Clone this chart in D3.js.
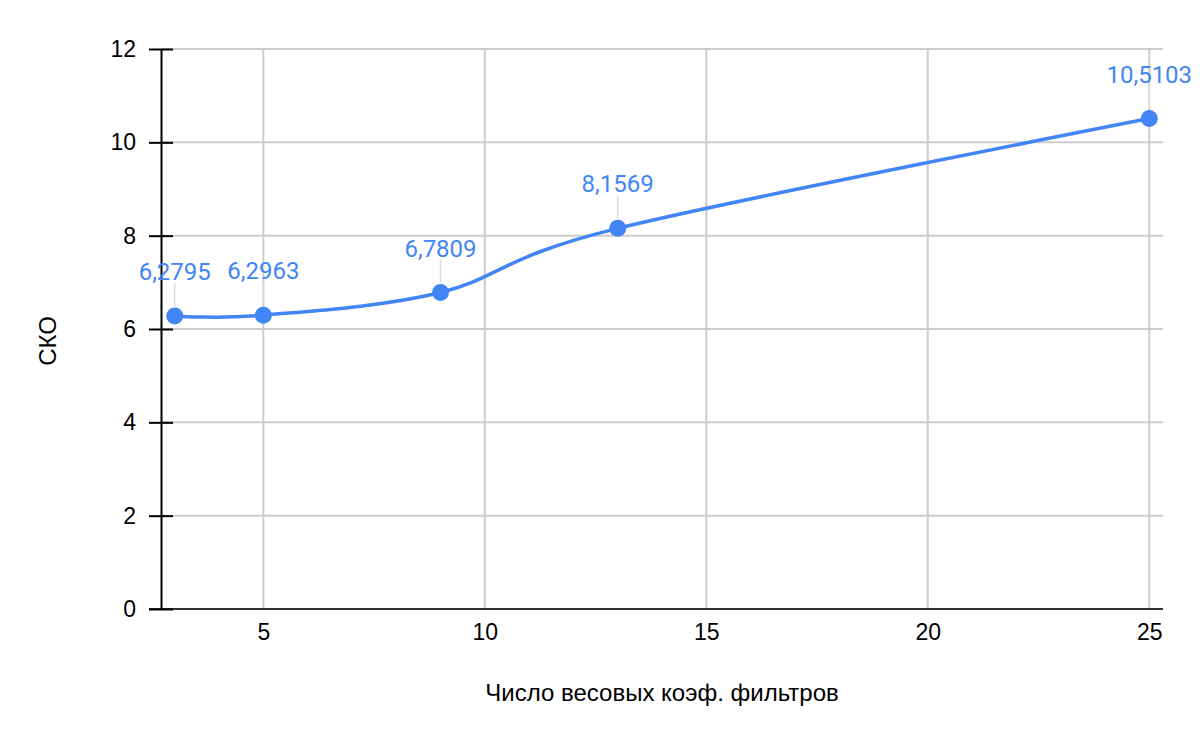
<!DOCTYPE html>
<html>
<head>
<meta charset="utf-8">
<script src="https://cdn.jsdelivr.net/npm/d3@7"></script>
<style>
  html, body { margin: 0; padding: 0; background: #fff; }
  svg { display: block; }
</style>
</head>
<body>
<svg id="chart" width="1200" height="742"></svg>
<script>
// ---- data ----
const xValues = [3, 5, 9, 13, 25];
const yValues = [6.2795, 6.2963, 6.7809, 8.1569, 10.5103];
const pointLabels = ["6,2795", "6,2963", "6,7809", "8,1569", "10,5103"];
const xTicks = [5, 10, 15, 20, 25];
const yTicks = [0, 2, 4, 6, 8, 10, 12];
const xTitle = "Число весовых коэф. фильтров";
const yTitle = "СКО";

// ---- layout ----
const plotLeft = 161, plotRight = 1163, plotTop = 49, plotBottom = 609;
const pad = 0.31;
const svg = d3.select("#chart");

const x = d3.scaleLinear().domain([3 - pad, 25 + pad]).range([plotLeft, plotRight]);
const y = d3.scaleLinear().domain([0, 12]).range([plotBottom, plotTop]);

const tickFont = "'Liberation Sans', Arial, sans-serif";

// horizontal gridlines
svg.append("g").selectAll("line").data(yTicks.filter(d => d > 0)).join("line")
  .attr("x1", plotLeft).attr("x2", plotRight)
  .attr("y1", d => y(d)).attr("y2", d => y(d))
  .attr("stroke", "#cccccc").attr("stroke-width", 2);

// vertical gridlines
svg.append("g").selectAll("line").data(xTicks).join("line")
  .attr("x1", d => x(d)).attr("x2", d => x(d))
  .attr("y1", plotTop).attr("y2", plotBottom)
  .attr("stroke", "#cccccc").attr("stroke-width", 2);

// bottom axis line
svg.append("line")
  .attr("x1", plotLeft - 12).attr("x2", plotRight)
  .attr("y1", plotBottom).attr("y2", plotBottom)
  .attr("stroke", "#333333").attr("stroke-width", 2);

// left axis via d3.axisLeft
const yAxis = d3.axisLeft(y).tickValues(yTicks).tickSizeInner(12).tickSizeOuter(0).tickPadding(13);
const gy = svg.append("g").attr("transform", `translate(${plotLeft},0)`).call(yAxis);
gy.select(".domain").attr("stroke", "#000").attr("stroke-width", 2);
gy.selectAll(".tick line").attr("stroke", "#000").attr("stroke-width", 2).attr("x2", 12).attr("x1", -12);
gy.selectAll(".tick text").attr("x", -25)
  .style("font-family", tickFont).style("font-size", "23px").attr("fill", "#000");

// bottom axis labels
const xAxis = d3.axisBottom(x).tickValues(xTicks).tickSize(0).tickPadding(15);
const gx = svg.append("g").attr("transform", `translate(0,${plotBottom})`).call(xAxis);
gx.select(".domain").remove();
gx.selectAll(".tick text")
  .style("font-family", tickFont).style("font-size", "23px").attr("fill", "#000");

// axis titles
svg.append("text")
  .attr("x", (plotLeft + plotRight) / 2).attr("y", 701)
  .attr("text-anchor", "middle")
  .style("font-family", tickFont).style("font-size", "24px")
  .attr("fill", "#000").text(xTitle);

svg.append("text")
  .attr("transform", `translate(55.5,${341}) rotate(-90)`)
  .attr("text-anchor", "middle")
  .style("font-family", tickFont).style("font-size", "24px")
  .attr("fill", "#000").text(yTitle);

const pts = xValues.map((v, i) => ({ x: v, y: yValues[i], label: pointLabels[i] }));

// leader lines
svg.append("g").selectAll("line").data(pts).join("line")
  .attr("x1", d => x(d.x)).attr("x2", d => x(d.x))
  .attr("y1", d => y(d.y) - 10).attr("y2", d => y(d.y) - 33)
  .attr("stroke", "#dddddd").attr("stroke-width", 1.5);

// line
const line = d3.line().x(d => x(d.x)).y(d => y(d.y)).curve(d3.curveCatmullRom.alpha(0));
svg.append("path").datum(pts)
  .attr("d", line).attr("fill", "none")
  .attr("stroke", "#4285F4").attr("stroke-width", 3.5);

// points
svg.append("g").selectAll("circle").data(pts).join("circle")
  .attr("cx", d => x(d.x)).attr("cy", d => y(d.y)).attr("r", 8.5)
  .attr("fill", "#4285F4");

// labels
svg.append("g").selectAll("text").data(pts).join("text")
  .attr("x", d => x(d.x)).attr("y", d => y(d.y) - 36)
  .attr("text-anchor", "middle")
  .style("font-family", "Roboto, sans-serif").style("font-size", "24px")
  .attr("fill", "#4285F4").text(d => d.label);
</script>
</body>
</html>
